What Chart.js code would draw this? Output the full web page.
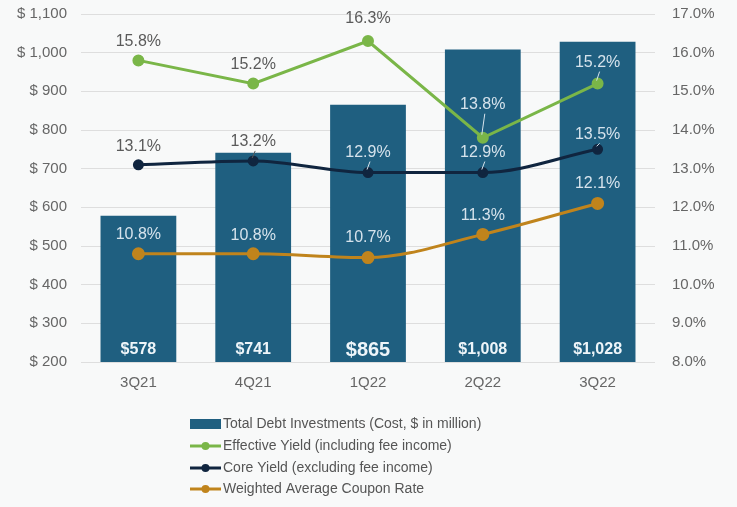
<!DOCTYPE html>
<html>
<head>
<meta charset="utf-8">
<script src="https://cdn.jsdelivr.net/npm/chart.js@4/dist/chart.umd.min.js"></script>
<style>
  html, body { margin: 0; padding: 0; background: #f8f9f9; }
  #wrap { width: 737px; height: 507px; }
</style>
</head>
<body>
<div id="wrap"><canvas id="myChart" width="737" height="507"></canvas></div>
<script>
// quarters and values
const quarters = ["3Q21", "4Q21", "1Q22", "2Q22", "3Q22"];
const debtInvestments = [578, 741, 865, 1008, 1028]; // $ in million
const effectiveYield = [15.8, 15.2, 16.3, 13.8, 15.2];
const coreYield = [13.1, 13.2, 12.9, 12.9, 13.5];
const couponRate = [10.8, 10.8, 10.7, 11.3, 12.1];

const FONT = "'Liberation Sans', Arial, sans-serif";
const BAR_COLOR = "#1f5f80";
const GREEN = "#7ab648";
const NAVY = "#10253f";
const ORANGE = "#c0841c";

// labels with % above each line point, small leader lines where they were moved
const pointLabels = {
  id: "pointLabels",
  afterDatasetsDraw(chart) {
    const ctx = chart.ctx;
    const bars = chart.getDatasetMeta(0).data;
    ctx.save();
    ctx.font = "16px " + FONT;
    ctx.textAlign = "center";
    ctx.textBaseline = "middle";
    chart.data.datasets.forEach((ds, di) => {
      if (ds.type !== "line") return;
      const meta = chart.getDatasetMeta(di);
      meta.data.forEach((pt, i) => {
        const off = (ds.labelOffsets && ds.labelOffsets[i]) || 19;
        const x = pt.x;
        const y = pt.y - off;
        const bar = bars[i];
        const inside = y > bar.y && Math.abs(x - bar.x) < bar.width / 2;
        const col = inside ? "#d6e3ec" : "#5a5a5a";
        ctx.fillStyle = col;
        ctx.fillText(ds.data[i].toFixed(1) + "%", x, y);
        if (ds.leaders && ds.leaders.includes(i)) {
          ctx.strokeStyle = col;
          ctx.lineWidth = 1;
          ctx.beginPath();
          ctx.moveTo(x + 2, y + 9);
          ctx.lineTo(x - 1, pt.y - 3);
          ctx.stroke();
        }
      });
    });
    // bar values at the foot of each bar
    const bottom = chart.chartArea.bottom;
    ctx.fillStyle = "#eef5f9";
    bars.forEach((bar, i) => {
      const size = i === 2 ? 20 : 16;
      ctx.font = "bold " + size + "px " + FONT;
      ctx.fillText("$" + debtInvestments[i].toLocaleString("en-US"), bar.x, bottom - 12);
    });
    ctx.restore();
  }
};

// stacked legend under the axis
const stackedLegend = {
  id: "stackedLegend",
  afterDraw(chart) {
    const ctx = chart.ctx;
    const x0 = 190;
    const rowY = [424, 446, 468, 489];
    ctx.save();
    ctx.font = "14px " + FONT;
    ctx.textBaseline = "middle";
    ctx.textAlign = "left";
    chart.data.datasets.forEach((ds, i) => {
      const y = rowY[i];
      if (ds.type === "bar") {
        ctx.fillStyle = ds.backgroundColor;
        ctx.fillRect(x0, y - 5, 31, 10);
      } else {
        ctx.strokeStyle = ds.borderColor;
        ctx.lineWidth = 3;
        ctx.beginPath();
        ctx.moveTo(x0, y);
        ctx.lineTo(x0 + 31, y);
        ctx.stroke();
        ctx.fillStyle = ds.borderColor;
        ctx.beginPath();
        ctx.arc(x0 + 15.5, y, 4, 0, Math.PI * 2);
        ctx.fill();
      }
      ctx.fillStyle = "#555555";
      ctx.fillText(ds.label, x0 + 33, y);
    });
    ctx.restore();
  }
};

// fixed axis widths; drop the tick padding chart.js adds above/below vertical axes
function fixWidth(w) {
  return (scale) => {
    scale.width = w;
    scale.paddingTop = 0;
    scale.paddingBottom = 0;
  };
}

const data = {
  labels: quarters,
  datasets: [
    {
      type: "bar",
      label: "Total Debt Investments (Cost, $ in million)",
      data: debtInvestments,
      backgroundColor: BAR_COLOR,
      yAxisID: "y",
      barPercentage: 0.66,
      categoryPercentage: 1,
      order: 10
    },
    {
      type: "line",
      label: "Effective Yield (including fee income)",
      data: effectiveYield,
      borderColor: GREEN,
      backgroundColor: GREEN,
      borderWidth: 3,
      pointRadius: 4.5,
      pointHoverRadius: 4.5,
      tension: 0,
      yAxisID: "y1",
      labelOffsets: [19, 19, 22, 33, 21],
      leaders: [3, 4],
      order: 3
    },
    {
      type: "line",
      label: "Core Yield (excluding fee income)",
      data: coreYield,
      borderColor: NAVY,
      backgroundColor: NAVY,
      borderWidth: 3,
      pointRadius: 4,
      pointHoverRadius: 4,
      cubicInterpolationMode: "monotone",
      yAxisID: "y1",
      labelOffsets: [18, 19, 20, 20, 15],
      leaders: [1, 2, 3, 4],
      order: 2
    },
    {
      type: "line",
      label: "Weighted Average Coupon Rate",
      data: couponRate,
      borderColor: ORANGE,
      backgroundColor: ORANGE,
      borderWidth: 3,
      pointRadius: 5,
      pointHoverRadius: 5,
      cubicInterpolationMode: "monotone",
      yAxisID: "y1",
      labelOffsets: [19, 18, 20, 19, 20],
      order: 1
    }
  ]
};

const config = {
  data,
  plugins: [pointLabels, stackedLegend],
  options: {
    responsive: false,
    animation: false,
    layout: { padding: { top: 14, bottom: 109, left: 0, right: 0 } },
    plugins: {
      legend: { display: false },
      tooltip: { enabled: false }
    },
    scales: {
      x: {
        grid: { display: false, drawTicks: false },
        border: { display: false },
        ticks: { color: "#666666", font: { family: FONT, size: 15 }, padding: 12 },
        afterFit(scale) { scale.height = 36; }
      },
      y: {
        position: "left",
        min: 200,
        max: 1100,
        ticks: {
          stepSize: 100,
          color: "#666666",
          font: { family: FONT, size: 15 },
          padding: 14,
          callback: (v) => "$ " + v.toLocaleString("en-US")
        },
        grid: { color: "#dedede", drawTicks: false },
        border: { display: false },
        afterFit: fixWidth(81)
      },
      y1: {
        position: "right",
        min: 8,
        max: 17,
        ticks: {
          stepSize: 1,
          color: "#666666",
          font: { family: FONT, size: 15 },
          padding: 17,
          callback: (v) => v.toFixed(1) + "%"
        },
        grid: { display: false, drawTicks: false },
        border: { display: false },
        afterFit: fixWidth(82)
      }
    }
  }
};

const myChart = document.getElementById("myChart");
new Chart(myChart, config);
</script>
</body>
</html>
